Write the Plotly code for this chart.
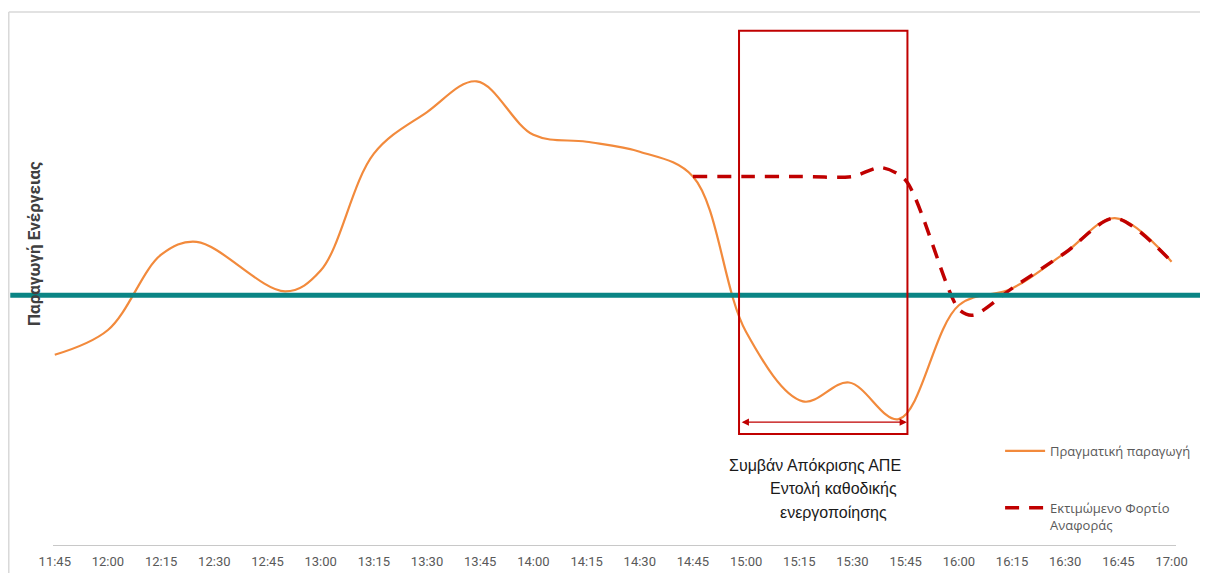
import plotly.graph_objects as go

DAY = "2024-01-01 "

actual_times = ["11:45", "12:00", "12:15", "12:25", "12:50", "13:00",
                "13:15", "13:30", "13:44", "14:00", "14:15", "14:30", "14:45", "15:00",
                "15:16", "15:29", "15:43", "16:00", "16:15", "16:30", "16:44", "17:00"]
actual_values = [38.4, 43.4, 58.6, 61.2, 51.2, 55.4,
                 79.0, 87.4, 93.6, 82.8, 81.4, 79.4, 74.4, 43.0,
                 29.0, 32.8, 25.4, 48.4, 51.8, 59.0, 66.0, 57.2]

# Estimated reference load
ref_times = ["14:45", "15:00", "15:15", "15:30", "15:38", "15:45", "16:00", "16:04",
             "16:15", "16:30", "16:44", "17:00"]
ref_values = [74.4, 74.4, 74.4, 74.4, 76.2, 73.6, 47.6, 46.4,
              51.8, 59.0, 66.0, 57.2]

threshold = 50.4

tick_labels = ["11:45", "12:00", "12:15", "12:30", "12:45", "13:00", "13:15", "13:30",
               "13:45", "14:00", "14:15", "14:30", "14:45", "15:00", "15:15", "15:30",
               "15:45", "16:00", "16:15", "16:30", "16:45", "17:00"]

event_start, event_end = "14:58", "15:45:30"
arrow_start, arrow_end = "14:58:20", "15:45:20"
arrow_level = 24.8

# page has an 8px body margin; figure sized to fit the window
OFF = 8
W, H = 1208 - 2 * OFF, 581 - 2 * OFF
ML, MR, MT, MB = 45, 17, 4, 23
PW, PH = W - ML - MR, H - MT - MB


def px_x(s):
    return (s - OFF - ML) / PW


def px_y(s):
    return (H - MB - (s - OFF)) / PH


RED = "#c00000"
ORANGE = "#f28a3c"

fig = go.Figure()
fig.add_trace(go.Scatter(
    x=[DAY + t for t in actual_times], y=actual_values,
    mode="lines", name="Πραγματική παραγωγή", legendgroup="a",
    line=dict(color=ORANGE, width=2.2, shape="spline", smoothing=1.0),
    hoverinfo="skip"))
fig.add_trace(go.Scatter(
    x=[DAY + t for t in ref_times], y=ref_values,
    mode="lines", name="Εκτιμώμενο Φορτίο<br>Αναφοράς", legendgroup="b",
    line=dict(color=RED, width=3.5, dash="14px,10px", shape="spline", smoothing=0.8),
    hoverinfo="skip"))

shapes = [
    # threshold line
    dict(type="line", xref="paper", yref="y", x0=px_x(10), x1=px_x(1210),
         y0=threshold, y1=threshold, line=dict(color="#0a8585", width=5)),
    # event box
    dict(type="rect", xref="x", yref="paper", x0=DAY + event_start, x1=DAY + event_end,
         y0=px_y(438), y1=px_y(31), line=dict(color=RED, width=2)),
    # outer frame
    dict(type="line", xref="paper", yref="paper", x0=px_x(8.5), x1=px_x(1210),
         y0=px_y(12), y1=px_y(12), line=dict(color="#d9d9d9", width=1.5)),
    dict(type="line", xref="paper", yref="paper", x0=px_x(8.5), x1=px_x(8.5),
         y0=px_y(12), y1=px_y(585), line=dict(color="#d9d9d9", width=1.5)),
]

TXT = dict(family="Liberation Sans", size=16, color="#1a1a1a")
annotations = [
    dict(xref="x", yref="y", x=DAY + arrow_end, y=arrow_level,
         axref="x", ayref="y", ax=DAY + arrow_start, ay=arrow_level,
         text="", showarrow=True, arrowhead=2, arrowside="end+start",
         arrowsize=1.2, arrowwidth=1.2, arrowcolor=RED),
    dict(xref="paper", yref="paper", x=px_x(820), y=px_y(470), text="Συμβάν Απόκρισης ΑΠΕ",
         xanchor="center", yanchor="middle", showarrow=False, font=TXT),
    dict(xref="paper", yref="paper", x=px_x(838), y=px_y(493), text="Εντολή καθοδικής",
         xanchor="center", yanchor="middle", showarrow=False, font=TXT),
    dict(xref="paper", yref="paper", x=px_x(838), y=px_y(517), text="ενεργοποίησης",
         xanchor="center", yanchor="middle", showarrow=False, font=TXT),
    dict(xref="paper", yref="paper", x=px_x(34), y=px_y(246), text="<b>Παραγωγή Ενέργειας</b>",
         xanchor="center", yanchor="middle", textangle=-90, showarrow=False,
         font=dict(family="Roboto", size=17, color="#404040")),
]

fig.update_layout(
    width=W, height=H,
    margin=dict(l=ML, r=MR, t=MT, b=MB),
    paper_bgcolor="white", plot_bgcolor="white",
    showlegend=True,
    legend=dict(x=px_x(1006), y=px_y(440), xanchor="left", yanchor="top",
                bgcolor="rgba(0,0,0,0)", tracegroupgap=37, valign="top",
                font=dict(family="Open Sans", size=13, color="#595959"),
                itemwidth=40),
    xaxis=dict(type="date", range=[DAY + "11:44:30", DAY + "17:01:15"],
               tickmode="array", tickvals=[DAY + t for t in tick_labels], ticktext=tick_labels,
               showgrid=False, zeroline=False, showline=True, linecolor="#c8c8c8", linewidth=1,
               ticks="", ticklabelstandoff=4,
               tickfont=dict(family="Roboto", size=13, color="#595959")),
    yaxis=dict(range=[0, PH / 5], showgrid=False, zeroline=False, showline=False,
               showticklabels=False, ticks=""),
    shapes=shapes,
    annotations=annotations,
)

fig.write_html("out.html")
